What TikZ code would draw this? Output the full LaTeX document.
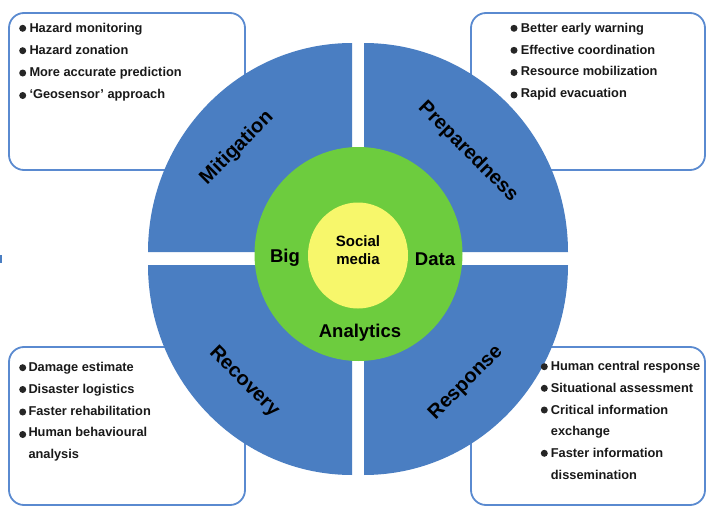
\documentclass[tikz,border=0pt]{standalone}
\usepackage{fontspec}
\setmainfont{Liberation Sans}
\definecolor{qblue}{HTML}{4A7EC2}
\definecolor{bline}{HTML}{5A8AD0}
\definecolor{cgreen}{HTML}{6DCC3E}
\definecolor{cyellow}{HTML}{F7F76B}
\begin{document}
\begin{tikzpicture}[x=1pt,y=-1pt,
  infobox/.style={draw=bline,line width=1.8pt,fill=white,rounded corners=15pt},
  quad/.style={fill=qblue},
  qlabel/.style={font=\fontsize{20}{24}\selectfont\bfseries,inner sep=0pt},
  clabel/.style={font=\fontsize{18.5}{22}\selectfont\bfseries,inner sep=0pt},
  item/.style={anchor=base west,inner sep=0pt,font=\fontsize{12.8}{15}\selectfont\bfseries,text=black!90},
  dot/.style={circle,fill=black!85,inner sep=0pt,minimum size=7pt}]
\useasboundingbox (0,0) rectangle (716,522);
\fill[white] (0,0) rectangle (716,522);
\fill[qblue] (0,255) rectangle (1.5,263);
% boxes
\draw[infobox] (9,13) rectangle (245,170);
\draw[infobox] (471,13) rectangle (705,170);
\draw[infobox] (9,347) rectangle (245,505);
\draw[infobox] (471,347) rectangle (705,505);
% quadrants
\fill[quad] (352,252) -- (148,252) arc[start angle=180,end angle=90,x radius=204pt,y radius=209pt] -- cycle;
\fill[quad] (364,252) -- (364,43) arc[start angle=90,end angle=0,x radius=204pt,y radius=209pt] -- cycle;
\fill[quad] (364,265) -- (568,265) arc[start angle=0,end angle=-90,x radius=204pt,y radius=210pt] -- cycle;
\fill[quad] (352,265) -- (352,475) arc[start angle=-90,end angle=-180,x radius=204pt,y radius=210pt] -- cycle;
% circles
\fill[cgreen] (358.5,254) ellipse [x radius=104pt,y radius=107pt];
\fill[cyellow] (358,255.5) ellipse [x radius=50pt,y radius=53pt];
% centre labels
\node[clabel] (big) at (285,258) {Big};
\node[clabel] (data) at (435,259) {Data};
\node[clabel] (ana) at (360,333) {Analytics};
\node[font=\fontsize{15}{18}\selectfont\bfseries,align=center,inner sep=0pt] (soc) at (358,250) {Social\\media};
% quadrant labels
\node[qlabel,rotate=45] (mit) at (237,148) {Mitigation};
\node[qlabel,rotate=-45] (prep) at (468,152) {Preparedness};
\node[qlabel,rotate=-45] (rec) at (244,382) {Recovery};
\node[qlabel,rotate=45] (resp) at (466,383) {Response};
% top-left items
\node[dot] (d1) at (22.7,28.3) {};
\node[item] (t1) at (29.3,32.3) {Hazard monitoring};
\node[dot] (d2) at (22.7,50.7) {};
\node[item] (t2) at (29.3,54.7) {Hazard zonation};
\node[dot] (d3) at (22.7,73) {};
\node[item] (t3) at (29.3,76.3) {More accurate prediction};
\node[dot] (d4) at (22.7,95.5) {};
\node[item] (t4) at (29.3,98) {‘Geosensor’ approach};
% top-right items
\node[dot] (e1) at (514,28.3) {};
\node[item] (u1) at (520.7,32.3) {Better early warning};
\node[dot] (e2) at (514,50.3) {};
\node[item] (u2) at (520.7,54) {Effective coordination};
\node[dot] (e3) at (514,72.5) {};
\node[item] (u3) at (520.7,75.7) {Resource mobilization};
\node[dot] (e4) at (514,95) {};
\node[item] (u4) at (520.7,97.3) {Rapid evacuation};
% bottom-left items
\node[dot] (f1) at (22.7,367.7) {};
\node[item] (v1) at (28.3,371.7) {Damage estimate};
\node[dot] (f2) at (22.7,389.5) {};
\node[item] (v2) at (28.3,393.3) {Disaster logistics};
\node[dot] (f3) at (22.7,412) {};
\node[item] (v3) at (28.3,415) {Faster rehabilitation};
\node[dot] (f4) at (22.7,434.5) {};
\node[item] (v4) at (28.3,436.7) {Human behavioural};
\node[item] (v5) at (28.3,458.3) {analysis};
% bottom-right items
\node[dot] (g1) at (544.3,366.7) {};
\node[item] (w1) at (550.7,370.7) {Human central response};
\node[dot] (g2) at (544.3,388.3) {};
\node[item] (w2) at (550.7,392.3) {Situational assessment};
\node[dot] (g3) at (544.3,410) {};
\node[item] (w3) at (550.7,414) {Critical information};
\node[item] (w4) at (550.7,435.7) {exchange};
\node[dot] (g4) at (544.3,453.3) {};
\node[item] (w5) at (550.7,457.3) {Faster information};
\node[item] (w6) at (550.7,479) {dissemination};
\end{tikzpicture}
\end{document}
